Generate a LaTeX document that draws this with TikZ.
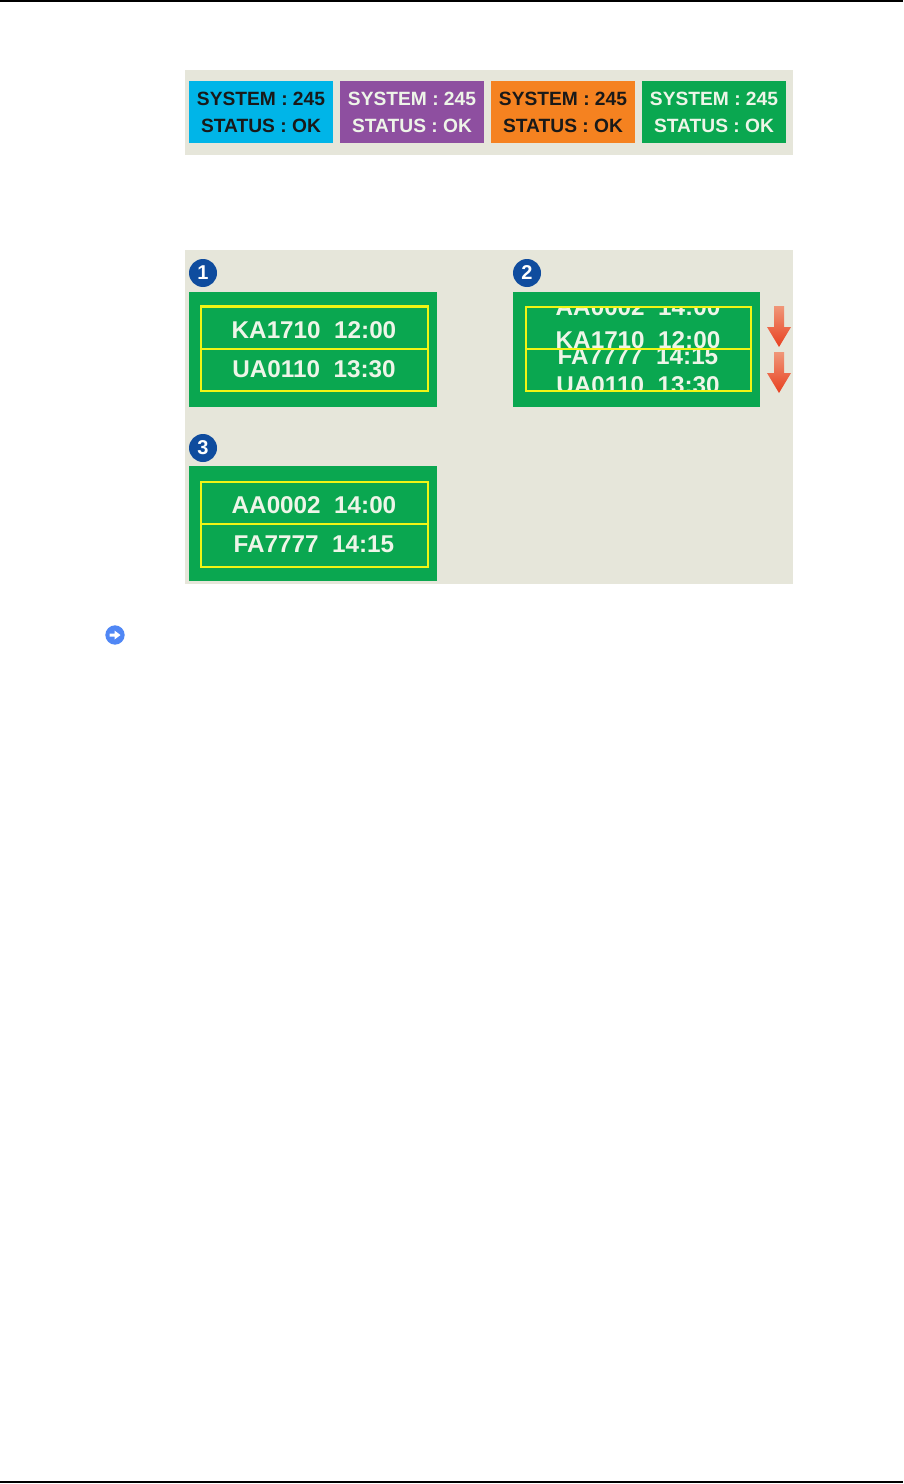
\documentclass[tikz,border=0pt]{standalone}
\usepackage{fontspec}
\setmainfont{Liberation Sans}
\usepackage{xcolor}
\definecolor{bandgrey}{RGB}{230,230,218}
\definecolor{syscyan}{RGB}{0,181,232}
\definecolor{syspurple}{RGB}{142,79,160}
\definecolor{sysorange}{RGB}{245,130,32}
\definecolor{sysgreen}{RGB}{10,167,80}
\definecolor{rowyellow}{RGB}{240,245,20}
\definecolor{rowwhite}{RGB}{238,245,232}
\definecolor{badgeblue}{RGB}{15,76,158}
\definecolor{iconblue}{RGB}{80,135,245}
\definecolor{arrowlight}{RGB}{240,150,120}
\definecolor{arrowred}{RGB}{232,64,32}
\tikzset{
  statusbox/.style={inner sep=0pt,minimum width=108pt,minimum height=46.5pt,align=center,font=\fontsize{14.4}{20.25}\selectfont\bfseries},
  rowtext/.style={inner sep=0pt,text=rowwhite,font=\fontsize{18.2}{20}\selectfont\bfseries},
  badge/.style={circle,fill=badgeblue,text=white,inner sep=0pt,minimum size=21pt,font=\fontsize{15}{15}\selectfont\bfseries},
  rowline/.style={draw=rowyellow,line width=2pt},
}

\begin{document}
\begin{tikzpicture}[x=0.75pt,y=0.75pt,yscale=-1,xscale=1]
\useasboundingbox (0,0) rectangle (903,1484);

%Page rules
\draw [line width=0.8pt] (0,1) -- (903,1) ;
\draw [line width=0.8pt] (0,1482) -- (903,1482) ;

%Top band
\fill [bandgrey] (185,70) rectangle (793,155) ;
% Status boxes
\node [statusbox,fill=syscyan,text=black!90] (sysone) at (261,112) {SYSTEM : 245\\STATUS : OK};
\node [statusbox,fill=syspurple,text=rowwhite] (systwo) at (412,112) {SYSTEM : 245\\STATUS : OK};
\node [statusbox,fill=sysorange,text=black!90] (systhree) at (563,112) {SYSTEM : 245\\STATUS : OK};
\node [statusbox,fill=sysgreen,text=rowwhite] (sysfour) at (714,112) {SYSTEM : 245\\STATUS : OK};

%Lower band
\fill [bandgrey] (185,250) rectangle (793,584) ;

%Panel 1
\fill [sysgreen] (189,292) rectangle (437,407) ;
\node [badge] (badgeone) at (203,273) {1};
\node [rowtext] (rowka) at (314,330) {KA1710\ \ 12:00};
\node [rowtext] (rowua) at (314,369) {UA0110\ \ 13:30};
\draw [rowline] (201,306.5) rectangle (428,391) ;
\draw [rowline] (201,349) -- (428,349) ;

%Panel 2
\fill [sysgreen] (513,292) rectangle (760,407) ;
\node [badge] (badgetwo) at (527,273) {2};
\begin{scope}
\clip (526,307) rectangle (751,349) ;
\node [rowtext] (rowaamoved) at (638,307) {AA0002\ \ 14:00};
\node [rowtext] (rowkamoved) at (638,340) {KA1710\ \ 12:00};
\end{scope}
\begin{scope}
\clip (526,349) rectangle (751,391) ;
\node [rowtext] (rowfamoved) at (638,356.5) {FA7777\ \ 14:15};
\node [rowtext] (rowuamoved) at (638,385) {UA0110\ \ 13:30};
\end{scope}
\draw [rowline] (526,307) rectangle (751,391) ;
\draw [rowline] (526,349) -- (751,349) ;

%Red arrows
\shade [top color=arrowlight,bottom color=arrowred] (774,306) -- (784,306) -- (784,327) -- (791,327) -- (779,347) -- (767,327) -- (774,327) -- cycle ;
\shade [top color=arrowlight,bottom color=arrowred] (774,352) -- (784,352) -- (784,373) -- (791,373) -- (779,393) -- (767,373) -- (774,373) -- cycle ;

%Panel 3
\fill [sysgreen] (189,466) rectangle (437,581) ;
\node [badge] (badgethree) at (203,448) {3};
\node [rowtext] (rowaa) at (314,505) {AA0002\ \ 14:00};
\node [rowtext] (rowfa) at (314,544) {FA7777\ \ 14:15};
\draw [rowline] (201,482) rectangle (428,567) ;
\draw [rowline] (201,524) -- (428,524) ;

%Note icon
\node [circle,fill=iconblue,inner sep=0pt,minimum size=14.5pt] (noteicon) at (115,635) {};
\fill [white] (109.5,633.5) -- (114.5,633.5) -- (114.5,630.5) -- (120.5,635) -- (114.5,639.5) -- (114.5,636.5) -- (109.5,636.5) -- cycle ;

\end{tikzpicture}
\end{document}
